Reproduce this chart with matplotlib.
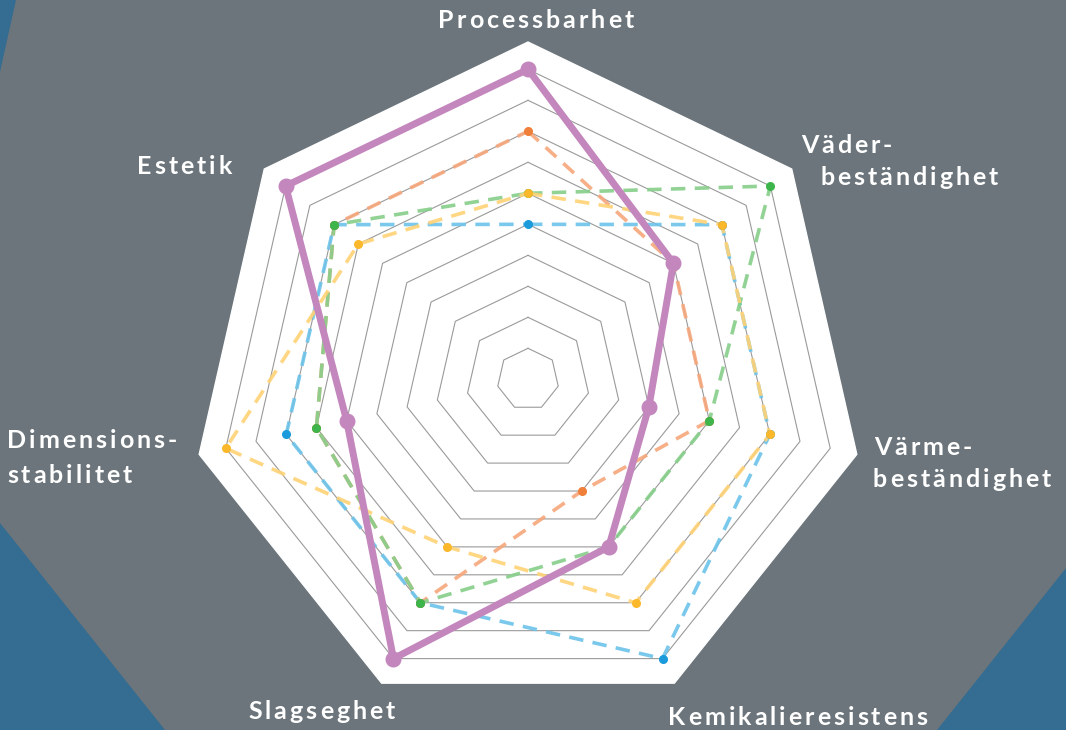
import numpy as np
import matplotlib
matplotlib.use("Agg")
import matplotlib.pyplot as plt
from matplotlib.patches import Polygon
from matplotlib.font_manager import FontProperties

# ---- data ----
categories = ["Processbarhet", "Väder-\nbeständighet", "Värme-\nbeständighet",
              "Kemikalieresistens", "Slagseghet", "Dimensions-\nstabilitet", "Estetik"]
series_purple = [10, 6, 4, 6, 10, 6, 10]
series_orange = [8, 6, 6, 4, 8, 7, 8]
series_green = [6, 10, 6, 6, 8, 7, 8]
series_yellow = [6, 8, 8, 8, 6, 10, 7]
series_blue = [5, 8, 8, 10, 8, 8, 8]
grid_levels = list(range(1, 11))

# ---- figure ----
W, H = 1066, 730
fig = plt.figure(figsize=(W / 100, H / 100), dpi=100)
fig.patch.set_facecolor("#6B757B")

# background decorative blue triangles (figure pixel coords)
bg = fig.add_axes([0, 0, 1, 1])
bg.set_xlim(0, W)
bg.set_ylim(H, 0)
bg.axis("off")
blue_bg = "#356C91"
for pts in ([(0, 0), (16, 0), (0, 72)],
            [(0, 523), (165, 730), (0, 730)],
            [(1066, 568), (1066, 730), (937, 730)]):
    bg.add_patch(Polygon(pts, closed=True, facecolor=blue_bg, edgecolor="none"))

# radar axes (cartesian, 31 px per unit, centre at pixel 528, 379.3)
scale = 31.0
cx, cy = 528.0, H - 379.3
ax = fig.add_axes([0, 0, 1, 1])
ax.set_xlim(-cx / scale, (W - cx) / scale)
ax.set_ylim(-cy / scale, (H - cy) / scale)
ax.axis("off")
ax.patch.set_alpha(0)

n = len(categories)
theta = np.pi / 2 - 2 * np.pi * np.arange(n) / n


def xy(vals):
    v = np.asarray(vals, dtype=float)
    x = v * np.cos(theta)
    y = v * np.sin(theta)
    return np.append(x, x[0]), np.append(y, y[0])


# white backing heptagon
bx, by = xy([10.88] * n)
ax.fill(bx, by, color="white", zorder=1)

# grid rings
for lv in grid_levels:
    gx, gy = xy([lv] * n)
    ax.plot(gx, gy, color="#9A9A9A", lw=0.8, zorder=2)

dashed = [
    (series_blue, "#6CC3EA", "#1B9BDC"),
    (series_orange, "#F5A67A", "#F07F3A"),
    (series_green, "#86CF8A", "#3DB54A"),
    (series_yellow, "#FFD275", "#FBB82B"),
]
for vals, lc, mc in dashed:
    x, y = xy(vals)
    ax.plot(x, y, color=lc, lw=2.6, ls=(0, (4, 2.6)), alpha=0.9, zorder=3,
            solid_capstyle="butt", dash_capstyle="butt")
    ax.plot(x[:-1], y[:-1], ls="none", marker="o", ms=5.5, color=mc, zorder=4)

px, py = xy(series_purple)
ax.plot(px, py, color="#C386BD", lw=5, zorder=5, solid_joinstyle="round")
ax.plot(px[:-1], py[:-1], ls="none", marker="o", ms=10.5, color="#C386BD", zorder=6)

# ---- labels with letter tracking ----
prop = FontProperties(family="Lato", weight="bold", size=18)
renderer = fig.canvas.get_renderer()
TRACK = 3.0


def tw(s):
    return renderer.get_text_width_height_descent(s, prop, ismath=False)[0]


def tracked(line, x_left, y_base):
    for i, ch in enumerate(line):
        off = tw(line[:i + 1]) - tw(ch)
        fig.text((x_left + off + i * TRACK) / W, 1 - y_base / H, ch,
                 fontproperties=prop, color="white", ha="left", va="baseline")


# (left x, baseline y) for each line of each label, in pixels
label_pos = [
    [(438, 28)],
    [(801, 153), (820, 185)],
    [(874, 455), (873, 487)],
    [(668, 725)],
    [(248, 719)],
    [(7, 448), (7, 483)],
    [(137, 174)],
]
for cat, poss in zip(categories, label_pos):
    for line, (lx, ly) in zip(cat.split("\n"), poss):
        tracked(line, lx, ly)

fig.savefig("out.png", dpi=100, facecolor=fig.get_facecolor())
